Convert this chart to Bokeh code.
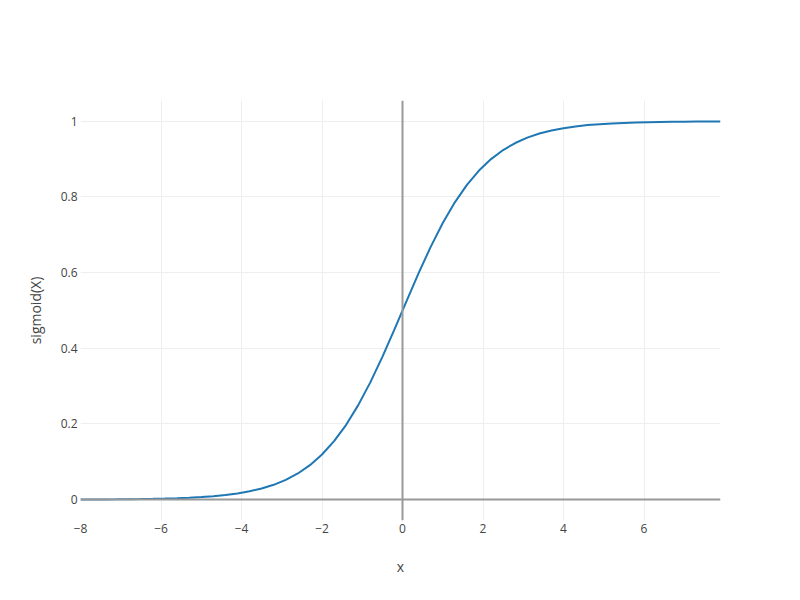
from bokeh.plotting import figure
from bokeh.models import Span, FixedTicker, CustomJSTickFormatter, Range1d
from bokeh.embed import file_html
from bokeh.resources import INLINE

x_vals = [-8.0, -7.7, -7.4, -7.1, -6.8, -6.5, -6.2, -5.9, -5.6, -5.3, -5.0, -4.7,
          -4.4, -4.1, -3.8, -3.5, -3.2, -2.9, -2.6, -2.3, -2.0, -1.7, -1.4, -1.1,
          -0.8, -0.5, -0.2, 0.1, 0.4, 0.7, 1.0, 1.3, 1.6, 1.9, 2.2, 2.5, 2.8, 3.1,
          3.4, 3.7, 4.0, 4.3, 4.6, 4.9, 5.2, 5.5, 5.8, 6.1, 6.4, 6.7, 7.0, 7.3, 7.6, 7.9]
sigmoid_vals = [0.000335, 0.000453, 0.000611, 0.000824, 0.001112, 0.001501, 0.002025,
                0.002732, 0.003684, 0.004967, 0.006693, 0.009013, 0.012128, 0.016302,
                0.021881, 0.029312, 0.039166, 0.052154, 0.069138, 0.091123, 0.119203,
                0.154465, 0.197816, 0.249740, 0.310026, 0.377541, 0.450166, 0.524979,
                0.598688, 0.668188, 0.731059, 0.785835, 0.832018, 0.869892, 0.900250,
                0.924142, 0.942676, 0.956892, 0.967705, 0.975873, 0.982014, 0.986614,
                0.990048, 0.992608, 0.994514, 0.995930, 0.996981, 0.997763, 0.998342,
                0.998771, 0.999089, 0.999325, 0.999500, 0.999630]
x_ticks = [-8, -6, -4, -2, 0, 2, 4, 6]
y_ticks = [0, 0.2, 0.4, 0.6, 0.8, 1]

FONT = "Open Sans"

p = figure(width=800, height=600, output_backend="svg", toolbar_location=None,
           x_range=Range1d(-8, 7.9), y_range=Range1d(-0.0552, 1.0551),
           min_border_left=80, min_border_right=80, min_border_top=100, min_border_bottom=80)
p.outline_line_color = None
p.background_fill_color = "white"
p.border_fill_color = "white"

fmt = CustomJSTickFormatter(code="""
    if (tick < 0) { return "\\u2212" + Math.abs(tick).toString(); }
    return tick.toString();
""")

for ax, ticks in ((p.xaxis[0], x_ticks), (p.yaxis[0], y_ticks)):
    ax.ticker = FixedTicker(ticks=ticks)
    ax.formatter = fmt
    ax.axis_line_color = None
    ax.major_tick_line_color = None
    ax.minor_tick_line_color = None
    ax.major_tick_out = 0
    ax.major_tick_in = 0
    ax.minor_tick_out = 0
    ax.major_label_text_font = FONT
    ax.major_label_text_font_size = "12px"
    ax.major_label_text_color = "#444444"
    ax.axis_label_text_font = FONT
    ax.axis_label_text_font_size = "14px"
    ax.axis_label_text_color = "#444444"
    ax.axis_label_text_font_style = "normal"

p.xaxis[0].axis_label = "x"
p.yaxis[0].axis_label = "sigmoid(X)"
p.xaxis[0].major_label_standoff = 3
p.xaxis[0].axis_label_standoff = 21
p.yaxis[0].major_label_standoff = 3
p.yaxis[0].axis_label_standoff = 13

p.xgrid[0].ticker = FixedTicker(ticks=[t for t in x_ticks if t != 0])
p.ygrid[0].ticker = FixedTicker(ticks=[t for t in y_ticks if t != 0])
p.xgrid[0].grid_line_color = "#eeeeee"
p.ygrid[0].grid_line_color = "#eeeeee"

p.add_layout(Span(location=0, dimension="height", line_color="#999999", line_width=2))
p.add_layout(Span(location=0, dimension="width", line_color="#999999", line_width=2))

p.line(x_vals, sigmoid_vals, line_color="#1f77b4", line_width=2)

open("out.html", "w").write(file_html(p, INLINE))
